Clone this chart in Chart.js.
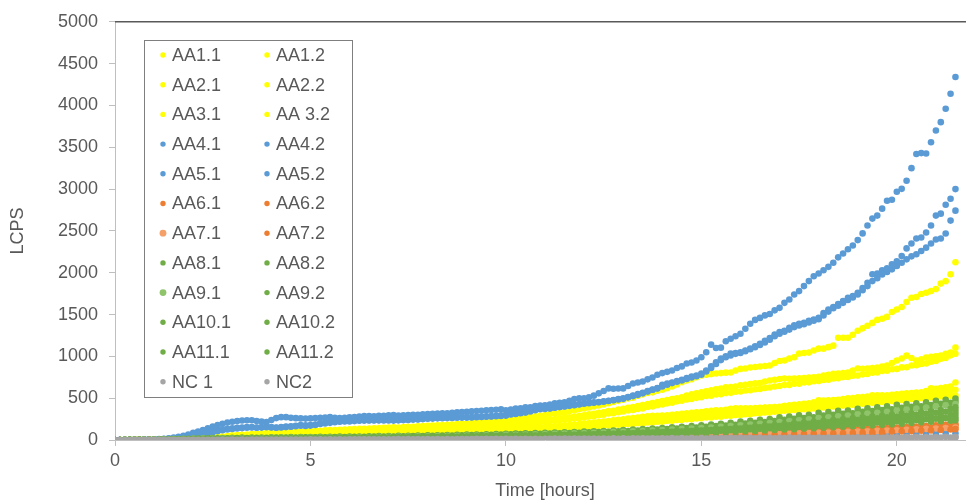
<!DOCTYPE html>
<html>
<head>
<meta charset="utf-8">
<script src="https://cdn.jsdelivr.net/npm/chart.js@4.4.0/dist/chart.umd.min.js"></script>
<style>
  html, body { margin: 0; padding: 0; background: #fff; overflow: hidden; }
  #wrap { position: relative; width: 1000px; height: 504px; }
</style>
</head>
<body>
<div id="wrap"><canvas id="lcpsChart" width="1000" height="504"></canvas></div>
<script>
// sampling times (hours): 7.5 min runs and two staggered 15 min runs
const hoursFine = [
  0,0.125,0.25,0.375,0.5,0.625,0.75,0.875, 1,1.125,1.25,1.375,1.5,1.625,1.75,1.875,
  2,2.125,2.25,2.375,2.5,2.625,2.75,2.875, 3,3.125,3.25,3.375,3.5,3.625,3.75,3.875,
  4,4.125,4.25,4.375,4.5,4.625,4.75,4.875, 5,5.125,5.25,5.375,5.5,5.625,5.75,5.875,
  6,6.125,6.25,6.375,6.5,6.625,6.75,6.875, 7,7.125,7.25,7.375,7.5,7.625,7.75,7.875,
  8,8.125,8.25,8.375,8.5,8.625,8.75,8.875, 9,9.125,9.25,9.375,9.5,9.625,9.75,9.875,
  10,10.125,10.25,10.375,10.5,10.625,10.75,10.875, 11,11.125,11.25,11.375,11.5,11.625,11.75,11.875,
  12,12.125,12.25,12.375,12.5,12.625,12.75,12.875, 13,13.125,13.25,13.375,13.5,13.625,13.75,13.875,
  14,14.125,14.25,14.375,14.5,14.625,14.75,14.875, 15,15.125,15.25,15.375,15.5,15.625,15.75,15.875,
  16,16.125,16.25,16.375,16.5,16.625,16.75,16.875, 17,17.125,17.25,17.375,17.5,17.625,17.75,17.875,
  18,18.125,18.25,18.375,18.5,18.625,18.75,18.875, 19,19.125,19.25,19.375,19.5,19.625,19.75,19.875,
  20,20.125,20.25,20.375,20.5,20.625,20.75,20.875, 21,21.125,21.25,21.375,21.5];
const hours = [0,0.25,0.5,0.75,1,1.25,1.5,1.75,2,2.25,2.5,2.75,3,3.25,3.5,3.75,4,4.25,4.5,4.75,
  5,5.25,5.5,5.75,6,6.25,6.5,6.75,7,7.25,7.5,7.75,8,8.25,8.5,8.75,9,9.25,9.5,9.75,
  10,10.25,10.5,10.75,11,11.25,11.5,11.75,12,12.25,12.5,12.75,13,13.25,13.5,13.75,14,14.25,14.5,14.75,
  15,15.25,15.5,15.75,16,16.25,16.5,16.75,17,17.25,17.5,17.75,18,18.25,18.5,18.75,19,19.25,19.5,19.75,
  20,20.25,20.5,20.75,21,21.25,21.5];
const hoursLate = [0.125,0.375,0.625,0.875,1.125,1.375,1.625,1.875,2.125,2.375,2.625,2.875,3.125,3.375,3.625,3.875,
  4.125,4.375,4.625,4.875,5.125,5.375,5.625,5.875,6.125,6.375,6.625,6.875,7.125,7.375,7.625,7.875,
  8.125,8.375,8.625,8.875,9.125,9.375,9.625,9.875,10.125,10.375,10.625,10.875,11.125,11.375,11.625,11.875,
  12.125,12.375,12.625,12.875,13.125,13.375,13.625,13.875,14.125,14.375,14.625,14.875,15.125,15.375,15.625,15.875,
  16.125,16.375,16.625,16.875,17.125,17.375,17.625,17.875,18.125,18.375,18.625,18.875,19.125,19.375,19.625,19.875,
  20.125,20.375,20.625,20.875,21.125,21.375,21.5];

// LCPS readings (7.5 min runs)
const aa1_1 = [0,0,1,1,2,2,3,4, 5,6,7,8,10,11,13,15, 18,21,25,28,32,37,42,48, 55,58,62,66,70,74,78,82,
  85,88,90,93,96,98,100,104, 108,111,110,116,119,118,123,126, 128,130,133,135,138,140,142,145,
  148,151,150,156,159,158,163,167, 170,173,176,180,183,186,190,194, 198,203,206,211,212,221,227,233,
  238,244,250,258,265,274,282,290, 298,310,316,326,330,347,356,370, 378,390,400,412,425,440,455,468,
  482,497,506,530,546,562,570,588, 600,620,640,665,690,712,725,750, 771,780,788,795,800,805,807,830,
  850,855,866,872,878,885,890,920, 945,950,973,990,1033,1040,1045,1070, 1092,1092,1110,1128,1223,1223,1223,1258,
  1306,1335,1365,1400,1436,1450,1472,1531, 1560,1590,1650,1700,1709,1745,1760,1780, 1804,1870,1899,1982,2125];
const aa1_2 = [0,0,1,1,1,2,2,2, 3,4,5,6,7,8,9,10, 12,14,16,18,20,23,26,29, 32,35,38,40,43,46,48,50,
  53,56,58,60,62,64,66,69, 72,74,76,78,80,83,85,88, 90,93,95,98,100,102,104,107,
  110,112,115,118,120,122,124,127, 130,134,133,140,141,147,146,152, 155,158,162,166,170,174,178,183,
  188,195,196,206,208,218,220,231, 236,243,250,258,265,272,280,288, 296,307,312,326,330,345,350,365,
  372,384,395,406,418,430,442,454, 465,478,490,500,512,530,545,558, 570,582,594,605,615,629,632,640,
  653,660,668,677,680,700,712,720, 730,736,732,736,738,742,748,750, 755,771,780,790,795,800,807,830,
  855,852,855,860,866,878,890,920, 950,975,1009,980,950,965,985,995, 1000,1009,1030,1045,1104];
const aa2_1 = [0,0,0,1,1,1,2,2, 3,3,4,5,6,7,8,9, 10,12,14,16,18,20,22,25, 27,29,31,33,35,37,39,42,
  44,45,47,50,52,54,56,58, 60,63,65,66,68,71,73,76, 78,80,82,85,88,90,91,94,
  96,99,102,103,105,108,111,113, 116,119,120,125,127,132,133,138, 140,145,147,152,154,160,162,167,
  170,176,180,187,191,199,204,211, 216,224,228,236,241,251,256,264, 270,280,285,297,302,316,321,333,
  340,352,359,372,378,394,401,416, 425,438,446,462,469,484,490,504, 512,526,530,545,548,561,564,576,
  580,591,594,607,610,623,627,640, 645,657,659,672,673,687,689,702, 705,718,721,736,738,752,754,768,
  770,785,789,805,808,825,828,845, 850,868,870,890,893,910,914,935, 945,970,980,1012,1030];
const aa2_2 = [0,0,0,1,1,1,1,2, 2,2,3,4,5,5,6,7, 8,9,11,12,14,15,17,19, 21,22,24,25,27,28,30,31,
  33,34,36,38,39,40,42,44, 45,46,48,50,51,52,54,56, 57,58,60,62,63,64,66,68,
  70,72,73,75,77,78,80,82, 84,86,88,90,92,94,96,98, 100,102,105,108,110,113,116,119,
  122,126,130,134,138,142,146,150, 155,160,165,170,175,180,186,192, 198,204,210,216,222,228,235,241,
  248,255,262,268,276,282,288,290, 292,296,300,306,312,318,325,330, 334,342,350,355,356,362,372,380,
  378,380,380,382,385,388,390,392, 398,405,415,420,428,434,439,450, 475,472,475,478,482,490,498,502,
  510,515,520,534,534,534,535,540, 545,552,558,562,568,570,585,617, 612,620,629,640,688];
const aa3_1 = [0,0,0,0,1,1,1,1, 2,2,3,3,4,5,5,6, 7,8,10,11,12,14,15,17, 19,20,22,23,24,26,27,29,
  30,32,33,35,36,38,39,41, 42,44,45,47,48,51,51,54, 55,57,58,61,61,64,65,68,
  69,72,72,75,76,79,80,83, 84,87,88,91,92,96,97,100, 101,105,106,110,111,115,117,121,
  122,126,128,133,135,139,142,146, 149,153,156,161,164,169,172,177, 180,185,189,194,198,204,208,214,
  218,224,228,235,240,246,251,258, 263,276,270,288,282,298,294,311, 306,322,316,333,326,343,337,352,
  348,365,358,374,368,385,378,394, 389,406,400,416,410,428,421,439, 432,450,443,461,454,472,465,482,
  476,494,487,504,497,515,508,525, 519,537,530,547,540,558,551,568, 563,582,576,596,600];
const aa3_2 = [0,0,0,0,0,0,1,1, 1,2,2,3,3,4,4,5, 5,6,7,8,9,10,11,12, 13,14,15,16,18,19,20,22,
  23,24,25,26,28,29,30,31, 32,33,35,36,37,38,40,41, 42,43,45,46,48,49,50,52,
  53,55,56,58,60,61,63,65, 67,69,71,73,75,77,79,81, 83,85,87,89,92,94,97,99,
  102,104,107,110,113,116,119,122, 125,128,131,135,138,142,145,149, 150,158,158,166,166,174,174,182,
  182,191,191,200,200,209,210,218, 219,229,229,239,239,249,249,258, 259,269,269,279,279,289,289,298,
  299,309,309,319,319,329,329,338, 339,349,349,359,359,369,369,378, 379,389,390,400,401,411,412,421,
  423,433,434,444,445,455,456,465, 467,477,478,489,489,500,500,510, 511,520,520,528,530];
const aa4_1 = [0,0,1,1,2,3,4,5, 6,8,10,13,17,22,28,34, 40,55,72,90,105,118,128,135, 140,146,150,154,154,150,156,160,
  154,150,156,160,165,170,178,175, 178,185,202,210,215,220,225,228, 230,232,237,236,237,238,236,240,
  240,238,240,242,245,248,250,255, 261,262,265,266,268,270,272,273, 273,275,278,280,283,285,290,295,
  297,310,320,326,332,350,365,380, 380,380,385,395,400,408,415,425, 439,445,451,455,462,470,475,485,
  492,510,525,540,558,580,600,617, 660,675,688,705,720,740,760,771, 795,830,880,930,973,1000,1033,1040,
  1050,1070,1092,1120,1150,1187,1220,1260, 1290,1306,1340,1370,1389,1400,1424,1440, 1460,1519,1560,1590,1626,1660,1700,1721,
  1760,1816,1880,1982,1990,2030,2054,2100, 2137,2200,2291,2350,2410,2421,2481,2564, 2683,2706,2813,2884,3000];
const aa4_2 = [0,0,1,1,2,2,3,4, 5,7,9,12,15,19,24,30, 36,48,62,78,92,106,116,126, 132,138,142,146,150,146,148,152,
  150,146,150,154,158,164,170,168, 172,180,192,198,205,212,218,222, 222,226,230,232,233,234,235,234,
  234,232,235,238,240,244,246,250, 254,256,259,261,262,264,266,268, 268,270,272,275,279,281,284,288,
  292,304,312,320,330,342,356,368, 372,378,388,396,404,412,420,430, 434,440,446,452,458,466,478,490,
  500,515,530,548,565,584,602,620, 640,660,680,696,712,730,748,762, 780,820,860,910,955,990,1010,1030,
  1040,1062,1085,1110,1135,1165,1200,1240, 1270,1295,1320,1350,1370,1385,1405,1425, 1445,1490,1535,1575,1605,1640,1675,1705,
  1740,1790,1840,1900,1935,1980,2010,2040, 2080,2120,2160,2196,2220,2260,2300,2350, 2398,2410,2469,2623,2742];
const aa5_1 = [0,1,2,3,3,4,5,6, 8,10,14,20,28,38,50,66, 85,100,119,140,160,180,195,208, 218,226,234,237,237,228,220,214,
  240,262,273,273,265,261,258,256, 258,262,266,268,273,265,262,266, 270,274,280,285,285,282,288,290,
  294,297,292,296,297,300,302,306, 310,312,316,318,320,326,330,334, 336,344,346,350,355,358,362,368,
  356,365,375,380,390,392,405,412, 415,425,439,445,451,470,490,498, 500,510,530,558,585,617,612,615,
  617,645,676,688,700,725,748,780, 800,815,831,860,880,914,926,950, 990,1050,1140,1100,1104,1180,1211,1240,
  1270,1330,1390,1436,1460,1490,1507,1550, 1580,1640,1680,1740,1780,1840,1900,1958, 1990,2030,2070,2120,2184,2230,2280,2326,
  2390,2470,2564,2647,2683,2766,2860,2872, 2968,3003,3100,3250,3420,3430,3425,3560, 3700,3800,3960,4140,4340];

// LCPS readings (15 min runs)
const aa5_2 = [0,0,1,1, 2,2,3,3, 4,4,5,5, 6,5,6,7, 7,8,7,8, 9,9,10,9, 10,11,11,12,
  12,13,12,14, 14,15,15,16, 17,17,18,18, 19,20,20,21, 22,22,23,24, 25,25,26,27,
  28,28,29,30, 36,38,40,41, 43,44,46,47, 49,50,52,53, 55,56,58,59, 60,62,63,64,
  66,67,68,70, 71,72,74,75, 76,78,80];
const aa6_1 = [0,0,1,1, 2,2,3,3, 4,4,5,5, 6,6,7,7, 8,8,9,9, 10,10,11,11, 12,12,13,13,
  14,14,15,16, 17,17,18,19, 20,21,22,23, 24,25,26,27, 28,30,31,33, 35,37,39,41,
  43,45,48,50, 53,56,59,62, 65,68,71,74, 78,82,86,90, 94,98,102,106, 110,114,118,122,
  127,132,137,142, 148,154,160,167, 175,182,190];
const aa6_2 = [0,0,1,1, 2,2,2,3, 3,4,4,5, 5,6,6,7, 7,8,8,9, 9,9,10,10, 11,11,12,12,
  13,13,14,14, 15,16,16,17, 18,19,20,21, 22,23,24,25, 26,27,28,30, 31,33,35,37,
  39,41,43,45, 48,50,53,56, 59,61,64,67, 70,74,77,81, 85,88,92,95, 99,103,106,110,
  114,119,123,128, 133,139,144,150, 157,163,170];
const aa7_1 = [0,0,0,1, 1,2,2,2, 3,3,4,4, 5,5,5,6, 6,7,7,8, 8,8,9,9, 10,10,10,11,
  11,12,12,13, 13,14,14,15, 16,17,17,18, 19,20,21,22, 23,24,25,26, 28,29,31,32,
  34,36,38,40, 42,44,47,49, 51,54,56,59, 62,65,68,71, 74,77,81,84, 87,90,94,97,
  101,105,109,113, 117,122,127,133, 138,144,150];
const aa7_2 = [0,0,0,1, 1,1,2,2, 2,3,3,4, 4,4,5,5, 5,6,6,7, 7,7,8,8, 8,9,9,9,
  10,10,11,11, 12,12,13,13, 14,14,15,16, 17,17,18,19, 20,21,22,23, 24,25,27,28,
  29,31,33,34, 36,38,40,42, 44,46,48,51, 53,56,59,61, 64,67,70,73, 76,78,81,84,
  87,91,94,98, 101,106,110,115, 120,125,130];
const aa8_1 = [0,1,2,4, 6,9,12,15, 18,20,22,24, 26,28,29,30, 31,32,34,35, 36,37,38,40, 41,42,44,46,
  47,49,51,53, 55,57,60,62, 64,66,69,72, 74,77,80,83, 86,89,92,96, 100,104,108,113,
  118,124,130,137, 144,151,158,166, 175,186,193,205, 222,230,242,250, 272,280,294,300, 325,334,348,352,
  372,380,392,402, 420,430,438,452, 468,480,495];
const aa8_2 = [0,1,2,3, 5,8,11,13, 16,18,20,21, 23,24,26,27, 28,29,30,31, 32,33,34,36, 37,38,40,41,
  42,44,46,48, 50,52,54,56, 58,60,62,65, 67,70,72,75, 78,81,84,87, 91,95,99,103,
  108,113,118,124, 130,136,143,150, 158,166,174,183, 198,206,216,226, 242,252,262,270, 292,300,312,320,
  338,346,358,366, 384,396,404,418, 432,444,460];
const aa9_1 = [0,1,1,3, 5,7,10,12, 14,16,18,19, 20,22,23,24, 25,26,27,28, 29,30,31,32, 33,34,36,37,
  38,40,41,43, 45,47,49,51, 52,54,56,59, 61,63,66,68, 71,73,76,79, 82,86,90,94,
  98,103,108,113, 118,124,130,136, 142,150,158,166, 176,186,194,204, 216,226,236,246, 262,272,282,292,
  306,316,326,338, 352,364,376,388, 402,414,430];
const aa9_2 = [0,1,1,2, 4,6,8,10, 12,14,15,16, 18,19,20,21, 22,23,24,25, 26,27,28,29, 30,31,32,33,
  34,35,37,38, 40,41,43,45, 46,48,50,52, 54,56,58,60, 63,65,68,70, 73,76,80,83,
  87,91,96,100, 105,110,115,120, 126,133,140,147, 155,163,172,180, 190,199,208,218, 230,238,248,258,
  270,280,290,300, 312,322,334,346, 358,372,390];
const aa10_1 = [0,0,1,2, 3,5,7,9, 10,12,13,14, 15,16,17,18, 19,20,21,22, 23,24,25,25, 26,27,28,29,
  30,31,32,33, 35,36,38,39, 41,42,44,46, 48,50,52,54, 56,58,60,63, 65,68,71,74,
  77,81,85,89, 93,98,102,107, 112,118,124,130, 138,145,152,160, 168,176,184,193, 202,211,220,229,
  240,250,260,270, 280,291,302,314, 326,338,350];
const aa10_2 = [0,0,1,1, 2,4,6,7, 9,10,11,12, 13,14,15,16, 16,17,18,19, 20,20,21,22, 23,24,24,25,
  26,27,28,29, 30,31,33,34, 35,37,38,40, 42,43,45,47, 49,51,53,55, 57,60,62,65,
  68,71,74,78, 81,85,89,93, 98,103,108,114, 120,126,133,140, 147,154,161,169, 177,185,193,201,
  210,218,227,236, 246,256,266,276, 288,298,310];
const aa11_1 = [0,0,1,1, 2,3,5,6, 7,8,9,10, 11,12,13,14, 15,16,17,18, 19,20,21,22, 23,24,25,26,
  27,28,29,31, 32,33,35,36, 38,40,41,43, 45,47,49,51, 53,55,58,60, 63,66,69,72,
  75,78,82,85, 89,92,96,98, 100,106,112,118, 123,128,134,140, 145,151,157,163, 170,176,182,188,
  195,202,209,216, 225,232,240,248, 255,262,270];
const aa11_2 = [0,0,0,1, 2,3,4,5, 6,7,8,9, 10,11,12,12, 13,14,15,15, 16,17,18,18, 19,20,21,22,
  23,24,25,26, 27,28,29,30, 32,33,35,36, 38,40,41,43, 45,47,49,51, 53,55,58,60,
  63,66,69,72, 75,78,81,83, 85,90,95,100, 104,109,114,119, 125,130,136,141, 147,152,158,164,
  170,175,181,187, 195,203,211,219, 225,230,235];
const nc1 = [0,0,1,1, 1,2,2,2, 3,3,3,4, 4,4,5,5, 5,6,6,6, 7,7,7,8, 8,8,9,9,
  9,10,10,10, 11,11,11,12, 12,13,13,13, 14,14,15,15, 15,16,16,17, 17,18,18,19,
  19,20,20,21, 21,22,22,23, 23,24,24,25, 25,26,26,27, 27,28,28,29, 29,30,30,31,
  31,32,32,33, 33,34,35,35, 36,37,38];
const nc2 = [0,0,0,1, 1,1,1,2, 2,2,3,3, 3,3,4,4, 4,5,5,5, 5,6,6,6, 7,7,7,7,
  8,8,8,9, 9,9,9,10, 10,10,11,11, 11,12,12,12, 13,13,13,14, 14,14,15,15,
  15,16,16,17, 17,17,18,18, 18,19,19,20, 20,21,21,21, 22,22,23,23, 23,24,24,25,
  25,26,26,27, 27,27,28,28, 29,29,30];

const seriesNames = ["AA1.1", "AA1.2", "AA2.1", "AA2.2", "AA3.1", "AA 3.2",
  "AA4.1", "AA4.2", "AA5.1", "AA5.2", "AA6.1", "AA6.2", "AA7.1", "AA7.2",
  "AA8.1", "AA8.2", "AA9.1", "AA9.2", "AA10.1", "AA10.2", "AA11.1", "AA11.2", "NC 1", "NC2"];
const seriesValues = [aa1_1, aa1_2, aa2_1, aa2_2, aa3_1, aa3_2,
  aa4_1, aa4_2, aa5_1, aa5_2, aa6_1, aa6_2, aa7_1, aa7_2,
  aa8_1, aa8_2, aa9_1, aa9_2, aa10_1, aa10_2, aa11_1, aa11_2, nc1, nc2];
const seriesTimes = [hoursFine, hoursFine, hoursFine, hoursFine, hoursFine, hoursFine,
  hoursFine, hoursFine, hoursFine, hours, hours, hoursLate, hours, hoursLate,
  hours, hoursLate, hours, hoursLate, hours, hoursLate, hours, hoursLate, hours, hoursLate];

const YELLOW = "#FFFF00", BLUE = "#5B9BD5", ORANGE = "#ED7D31", ORANGE_LT = "#F4A068",
  GREEN = "#70AD47", GREEN_LT = "#8FC46A", GREY = "#A5A5A5";
const seriesColors = [YELLOW, YELLOW, YELLOW, YELLOW, YELLOW, YELLOW,
  BLUE, BLUE, BLUE, BLUE, ORANGE, ORANGE, ORANGE_LT, ORANGE,
  GREEN, GREEN, GREEN_LT, GREEN, GREEN, GREEN, GREEN, GREEN, GREY, GREY];

const xTicks = [0, 5, 10, 15, 20];
const yTicks = [0, 500, 1000, 1500, 2000, 2500, 3000, 3500, 4000, 4500, 5000];

const FONT = '"Liberation Sans", Arial, sans-serif';
const TEXT = "#595959";
const AXIS = "#BFBFBF";

// later series are painted over earlier ones
const datasets = seriesNames.map((name, i) => ({
  label: name,
  data: seriesTimes[i].map((h, k) => ({ x: h, y: seriesValues[i][k] })),
  backgroundColor: seriesColors[i],
  borderWidth: 0,
  pointRadius: 3.3,
  pointHoverRadius: 3.3,
  order: seriesNames.length - i
}));

// thin dark rule along the top of the plot
const topRule = {
  id: "topRule",
  afterDatasetsDraw(chart) {
    const { ctx, chartArea } = chart;
    ctx.save();
    ctx.strokeStyle = "#595959";
    ctx.lineWidth = 1.5;
    ctx.beginPath();
    ctx.moveTo(chartArea.left, chartArea.top);
    ctx.lineTo(chart.width, chartArea.top);
    ctx.stroke();
    ctx.restore();
  }
};

// boxed two-column legend inside the plot
const boxedLegend = {
  id: "boxedLegend",
  afterDraw(chart) {
    const ctx = chart.ctx;
    const left = 144.5, top = 40.5, w = 208, h = 357;
    ctx.save();
    ctx.fillStyle = "#fff";
    ctx.fillRect(left, top, w, h);
    ctx.strokeStyle = "#7F7F7F";
    ctx.lineWidth = 1;
    ctx.strokeRect(left, top, w, h);
    ctx.font = "18px " + FONT;
    ctx.textBaseline = "middle";
    ctx.textAlign = "left";
    seriesNames.forEach((name, i) => {
      const row = Math.floor(i / 2), col = i % 2;
      const y = 55 + row * 29.7;
      const mx = col === 0 ? 163 : 267;
      const big = seriesColors[i] === ORANGE_LT || seriesColors[i] === GREEN_LT;
      ctx.beginPath();
      ctx.arc(mx, y, big ? 3.4 : 2.7, 0, Math.PI * 2);
      ctx.fillStyle = seriesColors[i];
      ctx.fill();
      ctx.fillStyle = TEXT;
      ctx.fillText(name, mx + 9, y + 1);
    });
    ctx.restore();
  }
};

new Chart(document.getElementById("lcpsChart"), {
  type: "scatter",
  data: { datasets },
  plugins: [topRule, boxedLegend],
  options: {
    responsive: false,
    animation: false,
    events: [],
    layout: { padding: { top: 20, right: 25, left: 0, bottom: 0 } },
    plugins: { legend: { display: false }, tooltip: { enabled: false } },
    scales: {
      x: {
        type: "linear",
        min: 0,
        max: 22,
        afterBuildTicks: (s) => { s.ticks = xTicks.map((v) => ({ value: v })); },
        afterFit: (s) => { s.height = 64; },
        border: { color: AXIS, width: 1 },
        grid: { drawOnChartArea: false, tickLength: 6, color: AXIS },
        ticks: { color: TEXT, font: { family: FONT, size: 18 }, padding: 4, maxRotation: 0,
          callback: (v) => String(v) },
        title: { display: true, text: "Time [hours]", color: TEXT, font: { family: FONT, size: 18 }, padding: { top: 0, bottom: 2 } }
      },
      y: {
        type: "linear",
        min: 0,
        max: 5000,
        afterBuildTicks: (s) => { s.ticks = yTicks.map((v) => ({ value: v })); },
        afterFit: (s) => { s.width = 115; },
        border: { color: AXIS, width: 1 },
        grid: { drawOnChartArea: false, tickLength: 6, color: AXIS },
        ticks: { color: TEXT, font: { family: FONT, size: 18 }, padding: 11,
          callback: (v) => String(v) },
        title: { display: true, text: "LCPS", color: TEXT, font: { family: FONT, size: 18 }, padding: { top: 7, bottom: 0 } }
      }
    }
  }
});
</script>
</body>
</html>
